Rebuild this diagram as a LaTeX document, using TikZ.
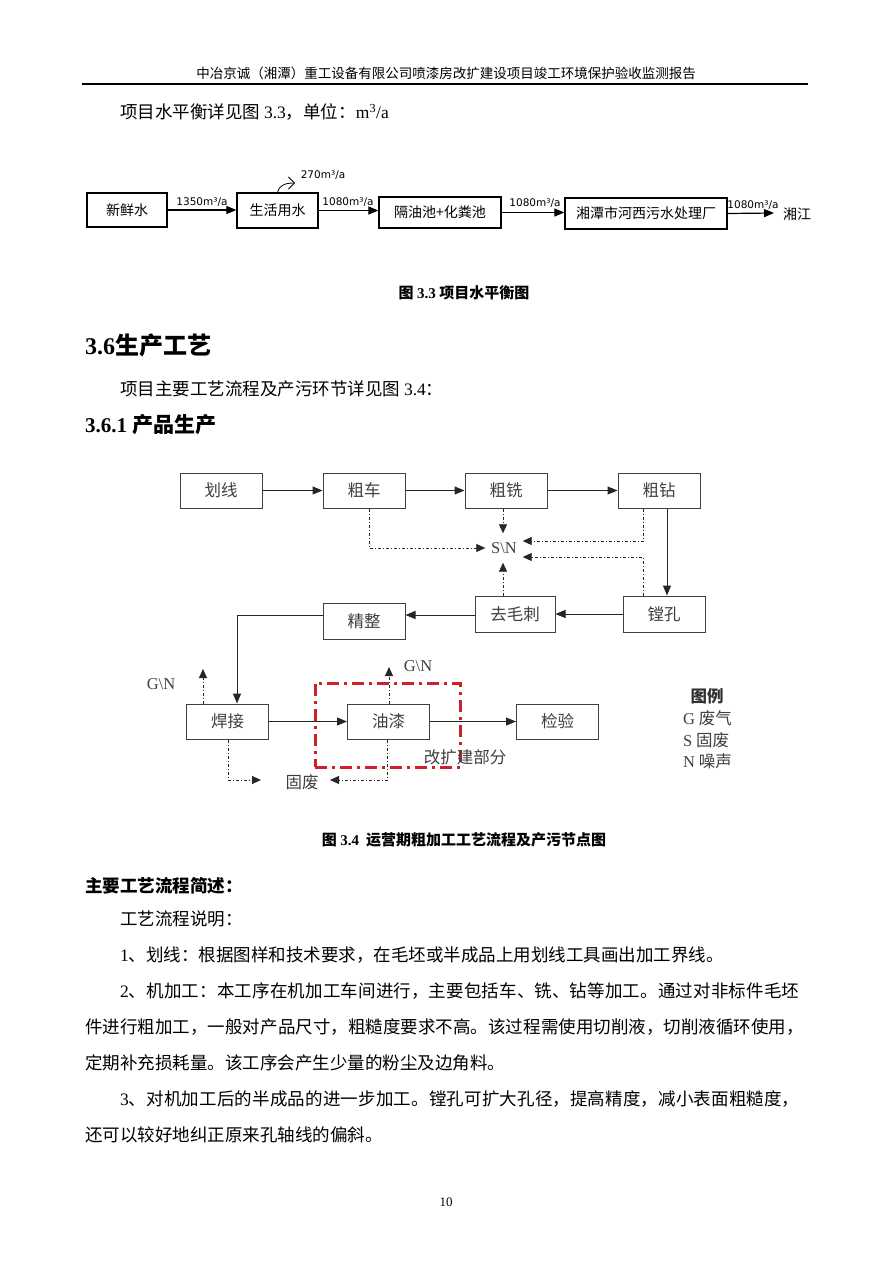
\documentclass[tikz,border=0pt]{standalone}
\usepackage{fontspec}
\setmainfont{Noto Sans CJK SC}
\newfontfamily\tnr{Liberation Serif}
\newfontfamily\dvs{DejaVu Sans}
\usetikzlibrary{arrows.meta,calc}
\XeTeXlinebreaklocale "zh"
\XeTeXlinebreakskip=0pt plus 1pt
\newcommand\fs[1]{\fontsize{#1}{#1}\selectfont}
\definecolor{redk}{RGB}{210,30,40}
\begin{document}
\begin{tikzpicture}[x=1pt,y=-1pt,
  wbox/.style={draw, line width=1.3pt, inner sep=0pt, font=\fs{14}},
  wlab/.style={font=\dvs\fs{10.5}, inner sep=0pt},
  warr/.style={-{Triangle[length=10pt,width=8pt]}, line width=1.2pt},
  pbox/.style={draw=black!75, line width=1pt, minimum width=82pt, minimum height=35pt, inner sep=0pt, font=\fs{16.5}, text=black!75},
  parr/.style={-{Triangle[length=10pt,width=8pt]}, line width=1pt, draw=black!85},
  darr/.style={-{Triangle[length=9pt,width=8pt]}, line width=0.8pt, dash pattern=on 3pt off 2pt on 1pt off 2pt, draw=black!85},
  redbox/.style={draw=redk, line width=3pt, dash pattern=on 12pt off 5pt on 3pt off 5pt, inner sep=0pt},
  body/.style={anchor=west, inner sep=0pt, font=\fs{17.5}},
  ptxt/.style={inner sep=0pt, font=\fs{16.5}, text=black!75}]
\useasboundingbox (0,0) rectangle (893,1263);
\fill[white] (0,0) rectangle (893,1263);

% header
\node[inner sep=0pt, font=\fs{13.5}] (hdr) at (446,73) {中冶京诚（湘潭）重工设备有限公司喷漆房改扩建设项目竣工环境保护验收监测报告};
\draw[line width=1.3pt] (82,84) -- (808,84);

\node[body] (t1) at (120,112) {项目水平衡详见图 {\tnr 3.3}，单位：{\tnr m\textsuperscript{3}/a}};

% water balance
\node[wbox, minimum width=80pt, minimum height=34pt] (w1) at (127,210) {新鲜水};
\node[wbox, minimum width=81pt, minimum height=35pt] (w2) at (277.5,210.5) {生活用水};
\node[wbox, minimum width=122pt, minimum height=31pt] (w3) at (440,212.5) {隔油池+化粪池};
\node[wbox, minimum width=162pt, minimum height=31pt] (w4) at (646,213.5) {湘潭市河西污水处理厂};
\node[inner sep=0pt, font=\fs{14}] (w5) at (797,214) {湘江};
\coordinate (w5in) at (774,213);
\draw[warr] (w1) -- (w1 -| w2.west);
\draw[warr] (w2.east) -- (w2.east -| w3.west);
\draw[warr] (w3.east) -- (w3.east -| w4.west);
\draw[warr] (w4.east) -- (w5in);
\coordinate (evap) at (295,183);
\draw[-{Straight Barb[length=6pt,width=12pt]}, line width=0.8pt] (w2.north) .. controls (279,186) and (284,183) .. (evap);
\node[wlab] at (323,175) {270m³/a};
\node[wlab] at (202,202) {1350m³/a};
\node[wlab] at (348,202) {1080m³/a};
\node[wlab] at (535,203) {1080m³/a};
\node[wlab] at (753,205) {1080m³/a};

\node[inner sep=0pt, font=\fs{15}\bfseries] (cap1) at (464,293) {图 {\tnr\bfseries 3.3} 项目水平衡图};

\node[anchor=west, inner sep=0pt, font=\fs{24}\bfseries] (h36) at (85,345) {{\tnr\bfseries 3.6}生产工艺};
\node[body] (t2) at (120,389) {项目主要工艺流程及产污环节详见图 {\tnr 3.4}：};
\node[anchor=west, inner sep=0pt, font=\fs{21}\bfseries] (h361) at (85,425) {{\tnr\bfseries 3.6.1} 产品生产};

% process diagram
\node[pbox] (hx) at (221,490.5) {划线};
\node[pbox] (cc) at (364,490.5) {粗车};
\node[pbox] (cx) at (506,490.5) {粗铣};
\node[pbox] (cz) at (659,490.5) {粗钻};
\node[pbox, minimum height=36pt] (tk) at (664,614) {镗孔};
\node[pbox, minimum width=80pt, minimum height=36pt] (qm) at (515,614) {去毛刺};
\node[pbox, minimum height=36pt] (jz) at (364,621) {精整};
\node[pbox] (hj) at (227.5,721.5) {焊接};
\node[pbox] (yq) at (388.5,721.5) {油漆};
\node[pbox] (jy) at (557.5,721.5) {检验};
\node[ptxt, font=\tnr\fs{16.5}, minimum width=37pt, minimum height=29pt] (sn) at (504,548) {S\textbackslash N};

\draw[parr] (hx) -- (cc);
\draw[parr] (cc) -- (cx);
\draw[parr] (cx) -- (cz);
\draw[parr] ([xshift=8pt]cz.south) -- ([xshift=8pt]cz.south |- tk.north);
\draw[parr] (tk) -- (qm);
\draw[parr] ([yshift=-1pt]qm.west) -- ([yshift=-1pt]qm.west -| jz.east);
\draw[parr] ([yshift=6pt]jz.west) -| ([xshift=9.5pt]hj.north);
\draw[parr] (hj) -- (yq);
\draw[parr] (yq) -- (jy);

\draw[darr] ([xshift=5pt]cc.south) |- (sn.west);
\draw[darr] ([xshift=-3pt]cx.south) -- ([xshift=-3pt]cx.south |- sn.north);
\draw[darr] ([xshift=-16pt]cz.south) |- ([yshift=7pt]sn.east);
\draw[darr] ([xshift=-21pt]tk.north) |- ([yshift=-9pt]sn.east);
\draw[darr] ([xshift=-12pt]qm.north) -- ([xshift=-12pt]qm.north |- sn.south);

\coordinate (g1) at (203,669);
\coordinate (g2) at (389,667);
\draw[darr] ([xshift=-24.5pt]hj.north) -- (g1);
\draw[darr] ([xshift=0.5pt]yq.north) -- (g2);
\node[ptxt, font=\tnr\fs{16.5}] (gn1) at (161,684) {G\textbackslash N};
\node[ptxt, font=\tnr\fs{16.5}] (gn2) at (418,666) {G\textbackslash N};

\node[ptxt] (gf) at (302,782) {固废};
\coordinate (gfl) at (261,780);
\coordinate (gfr) at (330,780);
\draw[darr] ([xshift=0.5pt]hj.south) |- (gfl);
\draw[darr] ([xshift=-1.5pt]yq.south) |- (gfr);

\node[redbox, minimum width=145pt, minimum height=84pt] (kk) at (387.5,725) {};
\node[ptxt] (kkt) at (465,757) {改扩建部分};

\node[ptxt, font=\fs{16.5}\bfseries, text=black!80] (lg) at (707,696) {图例};
\node[ptxt, anchor=west] (lg1) at (683,718) {{\tnr G}\ 废气};
\node[ptxt, anchor=west] (lg2) at (683,740) {{\tnr S}\ 固废};
\node[ptxt, anchor=west] (lg3) at (683,761) {{\tnr N}\ 噪声};

\node[inner sep=0pt, font=\fs{15}\bfseries] (cap2) at (464,840) {图 {\tnr\bfseries 3.4}\ \ 运营期粗加工工艺流程及产污节点图};

% text
\node[anchor=west, inner sep=0pt, font=\fs{17.5}\bfseries] (h3) at (85,886) {主要工艺流程简述：};
\node[body] (l1) at (120,919) {工艺流程说明：};
\node[body] (l2) at (120,955) {{\tnr 1}、划线：根据图样和技术要求，在毛坯或半成品上用划线工具画出加工界线。};
\node[body, text width=685pt] (l3) at (120,991) {\noindent\parfillskip=0pt {\tnr 2}、机加工：本工序在机加工车间进行，主要包括车、铣、钻等加工。通过对非标件毛坯\par};
\node[body, text width=720pt] (l4) at (85,1027) {\noindent\parfillskip=0pt 件进行粗加工，一般对产品尺寸，粗糙度要求不高。该过程需使用切削液，切削液循环使用，\par};
\node[body] (l5) at (85,1063) {定期补充损耗量。该工序会产生少量的粉尘及边角料。};
\node[body, text width=685pt] (l6) at (120,1099) {\noindent\parfillskip=0pt {\tnr 3}、对机加工后的半成品的进一步加工。镗孔可扩大孔径，提高精度，减小表面粗糙度，\par};
\node[body] (l7) at (85,1135) {还可以较好地纠正原来孔轴线的偏斜。};

\node[inner sep=0pt, font=\tnr\fs{13}] (pg) at (446,1202) {10};
\end{tikzpicture}
\end{document}
